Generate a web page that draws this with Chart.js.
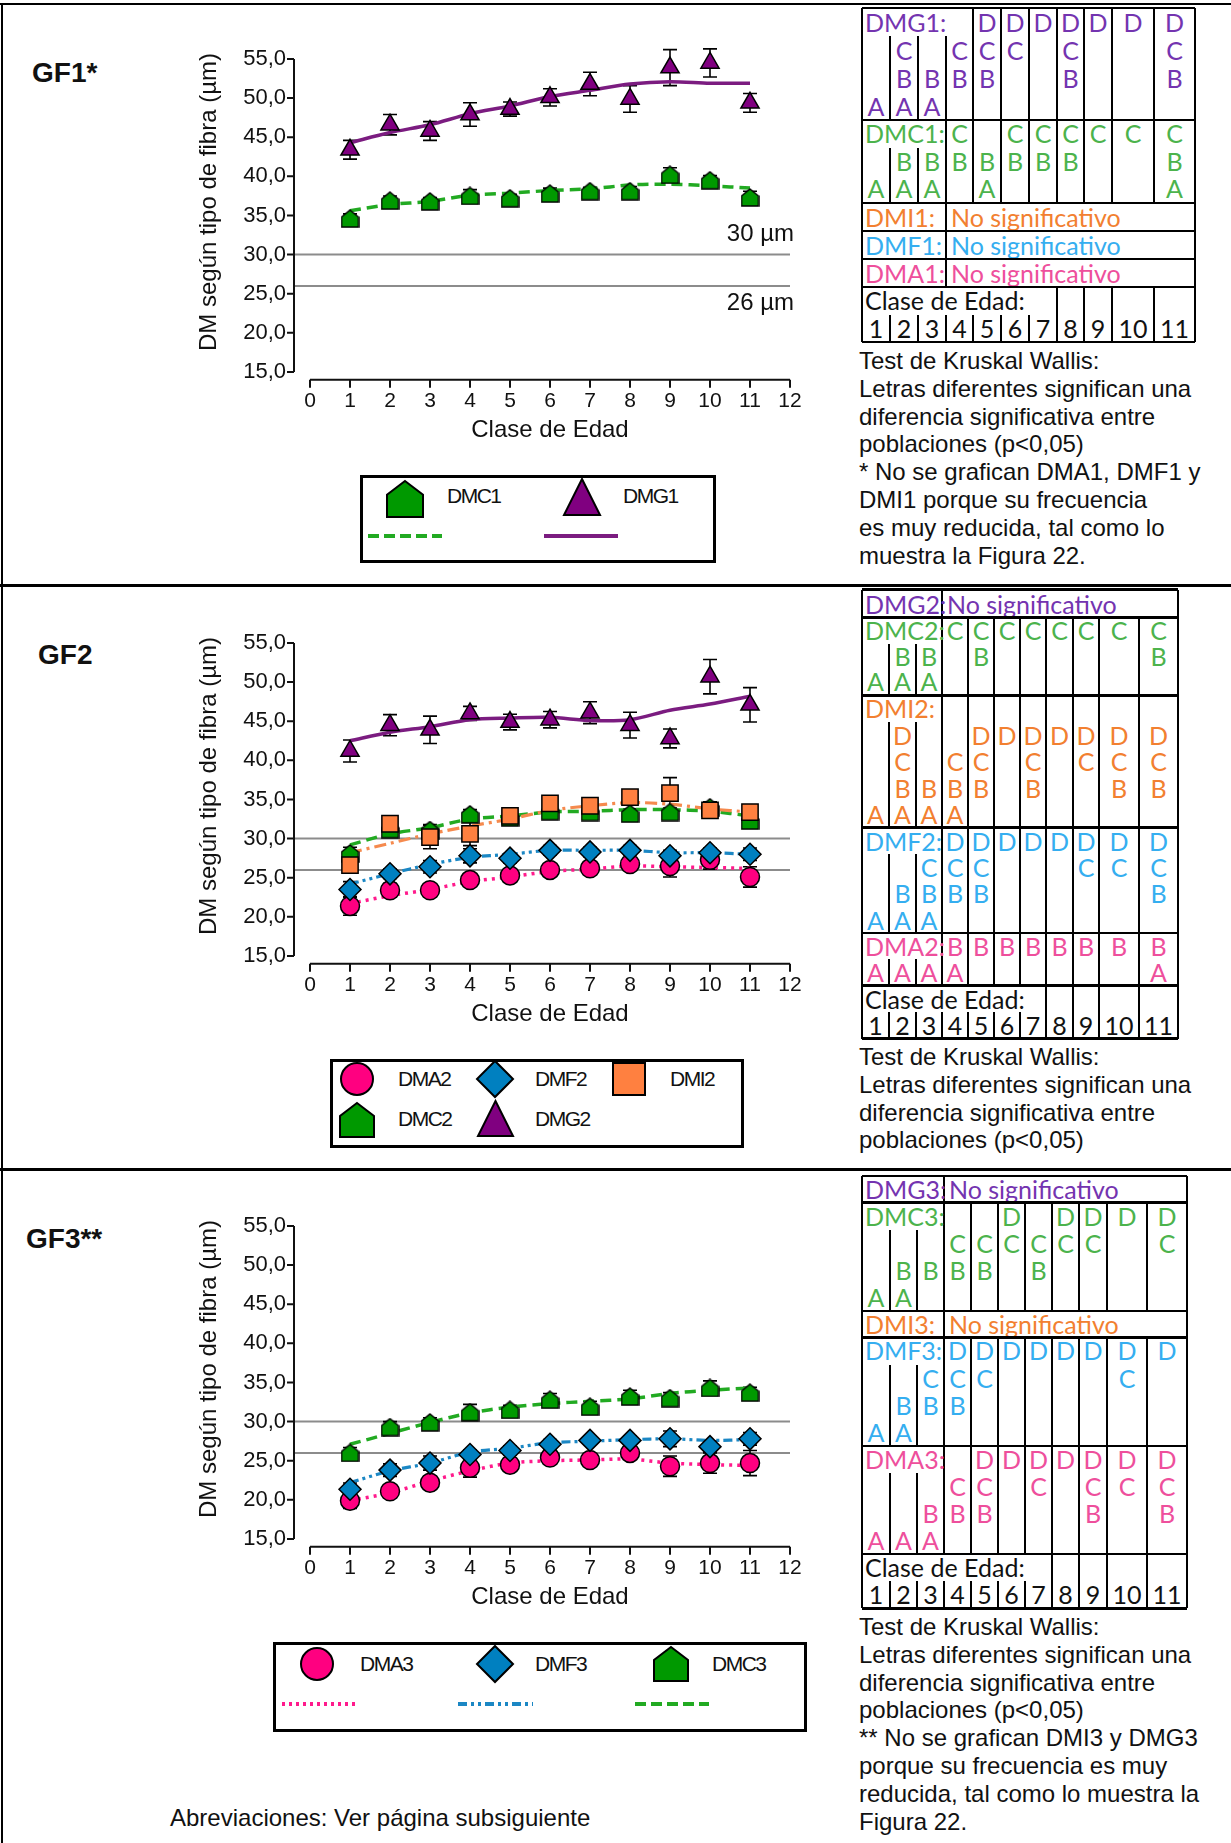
<!DOCTYPE html>
<html>
<head>
<meta charset="utf-8">
<script src="https://cdn.jsdelivr.net/npm/chart.js@4.4.0/dist/chart.umd.min.js"></script>
<style>
  body { margin: 0; width: 1231px; height: 1843px; position: relative; background: #fff; overflow: hidden;
         font-family: "Liberation Sans", Arial, sans-serif; color: #111; }
  .ln { position: absolute; background: #000; }
  .tx { position: absolute; white-space: nowrap; }
  .cell { position: absolute; font-family: Lato, "Open Sans", sans-serif; font-size: 25px; white-space: nowrap; }
  .note { position: absolute; left: 859px; font-size: 24px; line-height: 27.8px; white-space: nowrap; }
  .leg { position: absolute; border: 3px solid #000; box-sizing: border-box; }
  .legtx { position: absolute; font-size: 21px; letter-spacing: -1.5px; line-height: 24px; white-space: nowrap; }
  .gf { position: absolute; font-weight: bold; font-size: 28px; line-height: 32px; }
  canvas { position: absolute; }
</style>
</head>
<body>
<canvas id="gf1" width="640" height="413" style="left:180px;top:30px"></canvas>
<canvas id="gf2" width="640" height="413" style="left:180px;top:614px"></canvas>
<canvas id="gf3" width="640" height="413" style="left:180px;top:1197px"></canvas>
<script>
// ---- data ----
const clases = [1, 2, 3, 4, 5, 6, 7, 8, 9, 10, 11];
const xTicks = [0, 1, 2, 3, 4, 5, 6, 7, 8, 9, 10, 11, 12];
const yTicks = [15, 20, 25, 30, 35, 40, 45, 50, 55];
const refLines = [30, 26];

// GF1
const dmg1 = [43.4, 46.6, 45.8, 47.9, 48.6, 50.1, 51.8, 49.9, 53.9, 54.5, 49.4];
const dmg1Err = [1.2, 1.3, 1.2, 1.5, 0.9, 1.1, 1.5, 1.7, 2.3, 1.8, 1.2];
const dmg1Trend = [44.3, 45.6, 46.6, 48.0, 49.0, 50.2, 51.0, 51.8, 52.1, 51.9, 51.9];
const dmc1 = [34.6, 36.9, 36.8, 37.5, 37.2, 37.8, 38.1, 38.1, 40.2, 39.5, 37.3];
const dmc1Err = [0.6, 0.6, 0.5, 0.8, 0.5, 0.7, 0.5, 0.6, 0.9, 0.6, 0.8];
const dmc1Trend = [35.6, 36.4, 36.8, 37.6, 37.85, 38.2, 38.4, 38.9, 39.0, 38.8, 38.5];

// GF2
const dmg2 = [41.2, 44.5, 43.9, 46.0, 44.9, 45.2, 46.1, 44.5, 42.8, 50.7, 47.1];
const dmg2Err = [1.4, 1.35, 1.75, 0.9, 1.0, 1.05, 1.4, 1.65, 1.2, 2.2, 2.2];
const dmg2Trend = [42.5, 43.6, 44.3, 45.2, 45.4, 45.5, 45.1, 45.2, 46.4, 47.2, 48.2];
const dmi2 = [26.6, 31.9, 30.2, 30.6, 32.9, 34.5, 34.2, 35.3, 35.8, 33.6, 33.4];
const dmi2Err = [0.9, 0.6, 1.5, 1.5, 0.6, 0.6, 0.6, 0.7, 2.0, 0.7, 0.6];
const dmi2Trend = [28.2, 29.4, 30.6, 31.6, 32.5, 33.6, 34.2, 34.6, 34.4, 33.8, 33.4];
const dmc2 = [28.1, 31.2, 31.1, 33.1, 32.7, 33.5, 33.4, 33.2, 33.4, 34.0, 32.3];
const dmc2Err = [0.8, 0.6, 0.7, 0.6, 0.5, 0.5, 0.5, 0.6, 0.5, 0.7, 0.7];
const dmc2Trend = [29.2, 30.6, 31.4, 32.5, 32.9, 33.4, 33.5, 33.7, 33.7, 33.5, 32.9];
const dmf2 = [23.5, 25.5, 26.4, 27.8, 27.5, 28.5, 28.3, 28.5, 27.8, 28.2, 28.0];
const dmf2Err = [1.0, 0.6, 0.8, 0.9, 0.6, 0.6, 0.6, 0.6, 0.7, 0.6, 0.8];
const dmf2Trend = [24.2, 25.5, 26.7, 27.6, 28.0, 28.5, 28.5, 28.5, 28.2, 28.2, 28.0];
const dma2 = [21.4, 23.4, 23.4, 24.7, 25.3, 26.0, 26.2, 26.75, 26.5, 27.3, 25.1];
const dma2Err = [1.2, 0.9, 0.8, 0.7, 0.6, 0.6, 0.6, 0.8, 1.4, 1.2, 1.3];
const dma2Trend = [21.7, 22.7, 23.5, 24.5, 25.1, 25.8, 26.1, 26.5, 26.4, 26.3, 26.2];

// GF3
const dmc3 = [26.0, 29.3, 29.9, 31.2, 31.5, 32.8, 31.9, 33.2, 33.0, 34.3, 33.7];
const dmc3Err = [0.7, 0.7, 0.6, 1.0, 0.6, 0.8, 0.7, 0.8, 0.7, 0.9, 0.7];
const dmc3Trend = [27.1, 28.5, 29.9, 31.1, 31.85, 32.3, 32.6, 32.9, 33.6, 34.0, 34.3];
const dmf3 = [21.35, 23.8, 24.7, 25.8, 26.3, 27.1, 27.6, 27.6, 27.8, 26.8, 27.8];
const dmf3Err = [0.8, 0.8, 0.9, 0.6, 0.6, 0.6, 0.5, 0.6, 1.0, 0.7, 0.8];
const dmf3Trend = [22.2, 23.7, 24.7, 26.1, 26.6, 27.3, 27.5, 27.7, 27.8, 27.6, 27.7];
const dma3 = [19.9, 21.1, 22.2, 24.1, 24.5, 25.4, 25.1, 26.0, 24.3, 24.7, 24.7];
const dma3Err = [1.0, 0.8, 0.8, 1.2, 0.8, 0.8, 0.7, 0.7, 1.3, 1.3, 1.6];
const dma3Trend = [19.9, 20.9, 22.4, 23.7, 24.7, 25.0, 25.1, 25.2, 24.7, 24.5, 24.4];

// Kruskal Wallis letter tables
const tab1Cols = [862, 890, 918, 946, 973, 1001, 1029, 1057, 1084, 1112, 1154, 1195];
const tab2Cols = [862, 889, 916, 942, 968, 994, 1020, 1046, 1073, 1099, 1139, 1178];
const tab3Cols = [862, 890, 917, 944, 971, 998, 1025, 1052, 1079, 1107, 1147, 1187];
const dmg1Letters = ['A', 'CBA', 'BA', 'CB', 'DCB', 'DC', 'D', 'DCB', 'D', 'D', 'DCB'];
const dmc1Letters = ['A', 'BA', 'BA', 'CB', 'BA', 'CB', 'CB', 'CB', 'C', 'C', 'CBA'];
const dmc2Letters = ['A', 'BA', 'BA', 'C', 'CB', 'C', 'C', 'C', 'C', 'C', 'CB'];
const dmi2Letters = ['A', 'DCBA', 'BA', 'CBA', 'DCB', 'D', 'DCB', 'D', 'DC', 'DCB', 'DCB'];
const dmf2Letters = ['A', 'BA', 'CBA', 'DCB', 'DCB', 'D', 'D', 'D', 'DC', 'DC', 'DCB'];
const dma2Letters = ['A', 'A', 'A', 'BA', 'B', 'B', 'B', 'B', 'B', 'B', 'BA'];
const dmc3Letters = ['A', 'BA', 'B', 'CB', 'CB', 'DC', 'CB', 'DC', 'DC', 'D', 'DC'];
const dmf3Letters = ['A', 'BA', 'CB', 'DCB', 'DC', 'D', 'D', 'D', 'D', 'DC', 'D'];
const dma3Letters = ['A', 'A', 'BA', 'CB', 'DCB', 'D', 'DC', 'D', 'DCB', 'DC', 'DCB'];

const mk = { dma: '#ff0080', dmf: '#0080c0', dmi: '#ff8040', dmc: '#009900', dmg: '#800080' };
const tc = { dma: '#ee4f9c', dmf: '#35aef0', dmi: '#f28030', dmc: '#4cb34c', dmg: '#7434b0' };

// ---- chart helpers ----
Chart.defaults.font.family = "'Liberation Sans', Arial, sans-serif";
Chart.defaults.color = '#111';

function houseIcon(color, w, h) {
  const c = document.createElement('canvas');
  c.width = w; c.height = h;
  const g = c.getContext('2d');
  g.beginPath();
  g.moveTo(w / 2, 1); g.lineTo(w - 1, h * 0.42); g.lineTo(w - 1, h - 1);
  g.lineTo(1, h - 1); g.lineTo(1, h * 0.42); g.closePath();
  g.fillStyle = color; g.fill();
  g.lineWidth = 1.5; g.strokeStyle = '#000'; g.stroke();
  return c;
}

function markers(label, values, err, style, color, r) {
  return {
    label, err,
    data: clases.map((c, i) => ({ x: c, y: values[i] })),
    showLine: false, pointStyle: style, pointRadius: r, pointHoverRadius: r,
    pointBackgroundColor: color, pointBorderColor: '#000', pointBorderWidth: 1.5,
    order: 1, clip: false
  };
}
function trend(label, values, color, dash, width) {
  return {
    label,
    data: clases.map((c, i) => ({ x: c, y: values[i] })),
    borderColor: color, borderDash: dash, borderWidth: width,
    pointRadius: 0, tension: 0.3, fill: false, order: 2, clip: false
  };
}

const decor = {
  id: 'decor',
  beforeDatasetsDraw(chart, args, opts) {
    const { ctx, chartArea: a, scales: { x, y } } = chart;
    ctx.save();
    ctx.strokeStyle = '#8c8c8c'; ctx.lineWidth = 2;
    refLines.forEach(v => {
      const py = y.getPixelForValue(v);
      ctx.beginPath(); ctx.moveTo(a.left, py); ctx.lineTo(x.getPixelForValue(12), py); ctx.stroke();
    });
    ctx.strokeStyle = '#111'; ctx.lineWidth = 2;
    ctx.beginPath();
    ctx.moveTo(a.left, y.getPixelForValue(55)); ctx.lineTo(a.left, y.getPixelForValue(15));
    yTicks.forEach(v => { const py = y.getPixelForValue(v); ctx.moveTo(a.left - 7, py); ctx.lineTo(a.left, py); });
    ctx.moveTo(x.getPixelForValue(0), a.bottom); ctx.lineTo(x.getPixelForValue(12), a.bottom);
    xTicks.forEach(v => { const px = x.getPixelForValue(v); ctx.moveTo(px, a.bottom); ctx.lineTo(px, a.bottom + 8); });
    ctx.stroke();
    // error bars
    ctx.lineWidth = 1.6; ctx.strokeStyle = '#000';
    chart.data.datasets.forEach(ds => {
      if (!ds.err) return;
      ds.data.forEach((p, i) => {
        const px = x.getPixelForValue(p.x);
        const lo = y.getPixelForValue(p.y - ds.err[i]), hi = y.getPixelForValue(p.y + ds.err[i]);
        ctx.beginPath();
        ctx.moveTo(px, lo); ctx.lineTo(px, hi);
        ctx.moveTo(px - 7, lo); ctx.lineTo(px + 7, lo);
        ctx.moveTo(px - 7, hi); ctx.lineTo(px + 7, hi);
        ctx.stroke();
      });
    });
    ctx.restore();
  },
  afterDraw(chart, args, opts) {
    const { ctx, chartArea: a, scales: { x, y } } = chart;
    ctx.save();
    ctx.fillStyle = '#111';
    ctx.font = "24px 'Liberation Sans', Arial, sans-serif";
    ctx.textAlign = 'center'; ctx.textBaseline = 'middle';
    ctx.fillText('Clase de Edad', (x.getPixelForValue(0) + x.getPixelForValue(12)) / 2, a.bottom + 51);
    ctx.translate(29, 172); ctx.rotate(-Math.PI / 2);
    ctx.fillText('DM según tipo de fibra (µm)', 0, 0);
    ctx.restore();
    if (opts.refLabels) {
      ctx.save();
      ctx.fillStyle = '#111';
      ctx.font = "24px 'Liberation Sans', Arial, sans-serif";
      ctx.textAlign = 'right'; ctx.textBaseline = 'middle';
      ctx.fillText('30 µm', a.right + 4, y.getPixelForValue(30) - 20);
      ctx.fillText('26 µm', a.right + 4, y.getPixelForValue(26) + 17);
      ctx.restore();
    }
  }
};

function makeChart(id, datasets, refLabels) {
  return new Chart(document.getElementById(id), {
    type: 'line',
    data: { datasets },
    options: {
      responsive: false, animation: false,
      layout: { padding: { top: 29, right: 30, left: 0, bottom: 0 } },
      plugins: { legend: { display: false }, tooltip: { enabled: false }, decor: { refLabels } },
      scales: {
        x: {
          type: 'linear', min: -0.4, max: 12,
          afterBuildTicks: s => { s.ticks = xTicks.map(v => ({ value: v })); },
          afterFit: s => { s.height = 63.2; },
          grid: { display: false, drawTicks: false }, border: { display: false },
          ticks: { padding: 9, font: { size: 21 }, autoSkip: false, maxRotation: 0 }
        },
        y: {
          min: 14, max: 55,
          afterBuildTicks: s => { s.ticks = yTicks.map(v => ({ value: v })); },
          afterFit: s => { s.width = 114; },
          grid: { display: false, drawTicks: false }, border: { display: false },
          ticks: { padding: 8, font: { size: 22 }, callback: v => v.toFixed(1).replace('.', ',') }
        }
      }
    },
    plugins: [decor]
  });
}

makeChart('gf1', [
  trend('DMC1 tendencia', dmc1Trend, '#22aa22', [11, 6], 3.5),
  trend('DMG1 tendencia', dmg1Trend, '#7b1c80', [], 3.5),
  markers('DMC1', dmc1, dmc1Err, houseIcon(mk.dmc, 19, 19), mk.dmc, 9),
  markers('DMG1', dmg1, dmg1Err, 'triangle', mk.dmg, 10.5)
], true);

makeChart('gf2', [
  trend('DMG2 tendencia', dmg2Trend, '#7b1c80', [], 3.5),
  trend('DMI2 tendencia', dmi2Trend, '#f58a4e', [12, 5, 3, 5], 3.2),
  trend('DMC2 tendencia', dmc2Trend, '#22aa22', [11, 6], 3.5),
  trend('DMF2 tendencia', dmf2Trend, '#1b87c4', [9, 4, 3, 4, 3, 4], 3.2),
  trend('DMA2 tendencia', dma2Trend, '#ff1a8c', [3, 5], 3.5),
  markers('DMI2', dmi2, dmi2Err, 'rect', mk.dmi, 11.5),
  markers('DMF2', dmf2, dmf2Err, 'rectRot', mk.dmf, 11),
  markers('DMA2', dma2, dma2Err, 'circle', mk.dma, 9.5),
  markers('DMC2', dmc2, dmc2Err, houseIcon(mk.dmc, 19, 19), mk.dmc, 9),
  markers('DMG2', dmg2, dmg2Err, 'triangle', mk.dmg, 10.5)
], false);

makeChart('gf3', [
  trend('DMC3 tendencia', dmc3Trend, '#22aa22', [11, 6], 3.5),
  trend('DMF3 tendencia', dmf3Trend, '#1b87c4', [9, 4, 3, 4, 3, 4], 3.2),
  trend('DMA3 tendencia', dma3Trend, '#ff1a8c', [3, 5], 3.5),
  markers('DMF3', dmf3, dmf3Err, 'rectRot', mk.dmf, 11),
  markers('DMA3', dma3, dma3Err, 'circle', mk.dma, 9.5),
  markers('DMC3', dmc3, dmc3Err, houseIcon(mk.dmc, 19, 19), mk.dmc, 9)
], false);

// ---- page furniture (frame, legends, tables, notes) ----
const body = document.body;
function add(html) { body.insertAdjacentHTML('beforeend', html); }
function hline(x, y, w, t) { add(`<div class="ln" style="left:${x}px;top:${y - t / 2}px;width:${w}px;height:${t}px"></div>`); }
function vline(x, y, h, t) { add(`<div class="ln" style="left:${x - t / 2}px;top:${y}px;width:${t}px;height:${h}px"></div>`); }

hline(0, 4, 1231, 2.5);
hline(0, 585.5, 1231, 2.5);
hline(0, 1169.5, 1231, 2.5);
vline(2, 4, 1839, 2.5);

add('<div class="gf" style="left:32px;top:57px">GF1*</div>');
add('<div class="gf" style="left:38px;top:639px">GF2</div>');
add('<div class="gf" style="left:26px;top:1223px">GF3**</div>');

function sym(kind, cx, cy, s, fill) {
  const h = s / 2;
  let shape = '';
  const st = `fill="${fill}" stroke="#000" stroke-width="2"`;
  if (kind === 'circle') shape = `<circle cx="${h}" cy="${h}" r="${h}" ${st}/>`;
  if (kind === 'diamond') shape = `<polygon points="${h},0 ${s},${h} ${h},${s} 0,${h}" ${st}/>`;
  if (kind === 'square') shape = `<rect x="0" y="0" width="${s}" height="${s}" ${st}/>`;
  if (kind === 'triangle') shape = `<polygon points="${h},0 ${s},${s} 0,${s}" ${st}/>`;
  if (kind === 'house') shape = `<polygon points="${h},0 ${s},${s * 0.38} ${s},${s} 0,${s} 0,${s * 0.38}" ${st}/>`;
  add(`<svg style="position:absolute;left:${cx - h - 2}px;top:${cy - h - 2}px" width="${s + 4}" height="${s + 4}"><g transform="translate(2,2)">${shape}</g></svg>`);
}
function legText(t, x, cy) { add(`<div class="legtx" style="left:${x}px;top:${cy - 12}px">${t}</div>`); }
function legLine(x1, x2, y, color, dash) {
  add(`<svg style="position:absolute;left:${x1}px;top:${y - 3}px" width="${x2 - x1}" height="6"><line x1="0" y1="3" x2="${x2 - x1}" y2="3" stroke="${color}" stroke-width="4" stroke-dasharray="${dash}"/></svg>`);
}

// GF1 legend
add('<div class="leg" style="left:360px;top:475px;width:356px;height:88px"></div>');
sym('house', 405, 499, 36, mk.dmc); legText('DMC1', 447, 496);
sym('triangle', 582, 497, 36, mk.dmg); legText('DMG1', 623, 496);
legLine(368, 442, 536, '#22aa22', '11 5');
legLine(544, 618, 536, '#7b1c80', '');

// GF2 legend
add('<div class="leg" style="left:330px;top:1059px;width:414px;height:89px"></div>');
sym('circle', 357, 1079, 32, mk.dma); legText('DMA2', 398, 1079);
sym('diamond', 495, 1079, 36, mk.dmf); legText('DMF2', 535, 1079);
sym('square', 629, 1079, 32, mk.dmi); legText('DMI2', 670, 1079);
sym('house', 357, 1120, 34, mk.dmc); legText('DMC2', 398, 1119);
sym('triangle', 495, 1118, 35, mk.dmg); legText('DMG2', 535, 1119);

// GF3 legend
add('<div class="leg" style="left:273px;top:1642px;width:534px;height:90px"></div>');
sym('circle', 317, 1664, 32, mk.dma); legText('DMA3', 360, 1664);
sym('diamond', 495, 1664, 36, mk.dmf); legText('DMF3', 535, 1664);
sym('house', 671, 1664, 34, mk.dmc); legText('DMC3', 712, 1664);
legLine(282, 356, 1704, '#ff1a8c', '3 4');
legLine(458, 533, 1704, '#1b87c4', '9 4 3 4 3 4');
legLine(635, 709, 1704, '#22aa22', '11 5');

// tables
function cell(text, x, y, w, h, color, align) {
  add(`<div class="cell" style="left:${x}px;top:${y}px;width:${w}px;height:${h}px;line-height:${h}px;color:${color};text-align:${align}">${text}</div>`);
}
function table(cols, blocks) {
  const L = cols[0], R = cols[cols.length - 1];
  const T = blocks[0].y0, B = blocks[blocks.length - 1].y1;
  vline(L, T, B - T, 2.5); vline(R, T, B - T, 2.5);
  blocks.forEach(b => {
    hline(L, b.y0, R - L, 2.5);
    if (b.text) {
      vline(cols[3], b.y0, b.y1 - b.y0, 2.5);
      cell(b.label, L + 3, b.y0, 90, b.y1 - b.y0, b.color, 'left');
      cell(b.text, cols[3] + 5, b.y0, 250, b.y1 - b.y0, b.color, 'left');
      return;
    }
    const subs = b.clase ? ['', ''] : b.subs;
    const h = (b.y1 - b.y0) / subs.length;
    const short = b.clase ? 6 : b.short;
    for (let i = 1; i < cols.length - 1; i++) {
      const top = i <= short ? b.y0 + h : b.y0;
      vline(cols[i], top, b.y1 - top, 2.5);
    }
    if (b.clase) {
      cell('Clase de Edad:', L + 3, b.y0, 200, h, '#111', 'left');
      clases.forEach((c, j) => cell(String(c), cols[j], b.y0 + h, cols[j + 1] - cols[j], h, '#111', 'center'));
      return;
    }
    cell(b.label, L + 3, b.y0, 90, h, b.color, 'left');
    b.letters.forEach((s, j) => {
      s.split('').forEach(ch => {
        const k = subs.indexOf(ch);
        cell(ch, cols[j], b.y0 + k * h, cols[j + 1] - cols[j], h, b.color, 'center');
      });
    });
  });
  hline(L, B, R - L, 2.5);
}

table(tab1Cols, [
  { y0: 8, y1: 120, label: 'DMG1:', color: tc.dmg, subs: ['D', 'C', 'B', 'A'], short: 3, letters: dmg1Letters },
  { y0: 120, y1: 203, label: 'DMC1:', color: tc.dmc, subs: ['C', 'B', 'A'], short: 2, letters: dmc1Letters },
  { y0: 203, y1: 231, label: 'DMI1:', color: tc.dmi, text: 'No significativo' },
  { y0: 231, y1: 259, label: 'DMF1:', color: tc.dmf, text: 'No significativo' },
  { y0: 259, y1: 287, label: 'DMA1:', color: tc.dma, text: 'No significativo' },
  { y0: 287, y1: 342, clase: true }
]);
table(tab2Cols, [
  { y0: 589.5, y1: 617.6, label: 'DMG2:', color: tc.dmg, text: 'No significativo' },
  { y0: 617.6, y1: 695.4, label: 'DMC2:', color: tc.dmc, subs: ['C', 'B', 'A'], short: 2, letters: dmc2Letters },
  { y0: 695.4, y1: 827.6, label: 'DMI2:', color: tc.dmi, subs: ['', 'D', 'C', 'B', 'A'], short: 2, letters: dmi2Letters },
  { y0: 827.6, y1: 933, label: 'DMF2:', color: tc.dmf, subs: ['D', 'C', 'B', 'A'], short: 2, letters: dmf2Letters },
  { y0: 933, y1: 985.7, label: 'DMA2:', color: tc.dma, subs: ['B', 'A'], short: 2, letters: dma2Letters },
  { y0: 985.7, y1: 1038.7, clase: true }
]);
table(tab3Cols, [
  { y0: 1175.8, y1: 1202.5, label: 'DMG3:', color: tc.dmg, text: 'No significativo' },
  { y0: 1202.5, y1: 1311, label: 'DMC3:', color: tc.dmc, subs: ['D', 'C', 'B', 'A'], short: 2, letters: dmc3Letters },
  { y0: 1311, y1: 1337.4, label: 'DMI3:', color: tc.dmi, text: 'No significativo' },
  { y0: 1337.4, y1: 1446, label: 'DMF3:', color: tc.dmf, subs: ['D', 'C', 'B', 'A'], short: 2, letters: dmf3Letters },
  { y0: 1446, y1: 1553.8, label: 'DMA3:', color: tc.dma, subs: ['D', 'C', 'B', 'A'], short: 2, letters: dma3Letters },
  { y0: 1553.8, y1: 1608.5, clase: true }
]);

const kw = 'Test de Kruskal Wallis:<br>Letras diferentes significan una<br>diferencia significativa entre<br>poblaciones (p&lt;0,05)';
add(`<div class="note" style="top:347px">${kw}<br>* No se grafican DMA1, DMF1 y<br>DMI1 porque su frecuencia<br>es muy reducida, tal como lo<br>muestra la Figura 22.</div>`);
add(`<div class="note" style="top:1043px">${kw}</div>`);
add(`<div class="note" style="top:1613px">${kw}<br>** No se grafican DMI3 y DMG3<br>porque su frecuencia es muy<br>reducida, tal como lo muestra la<br>Figura 22.</div>`);
add('<div class="tx" style="left:170px;top:1804px;font-size:24px;line-height:28px">Abreviaciones: Ver página subsiguiente</div>');
</script>
</body>
</html>
